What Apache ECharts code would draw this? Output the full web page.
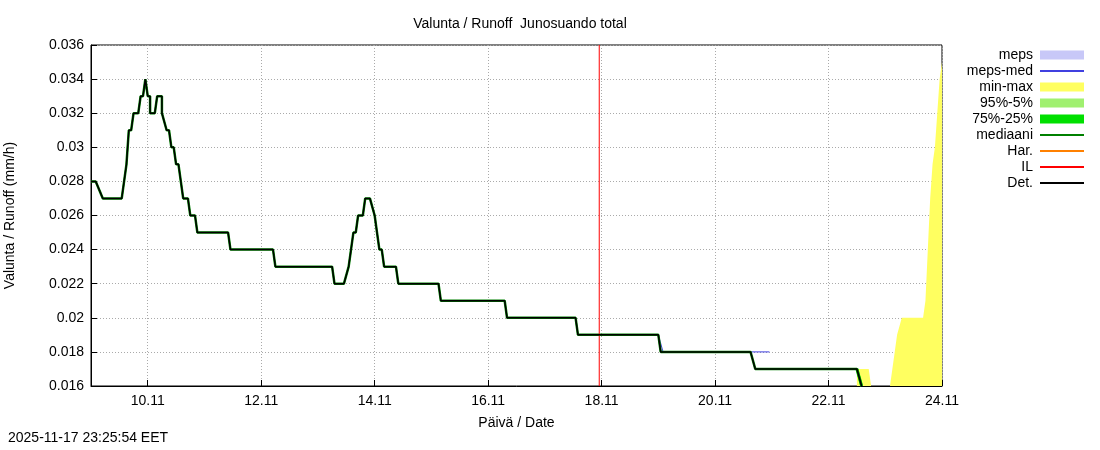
<!DOCTYPE html>
<html><head><meta charset="utf-8">
<script src="https://cdn.jsdelivr.net/npm/echarts@6/dist/echarts.min.js"></script>
<style>body{margin:0}#c{width:1100px;height:450px}</style></head>
<body><div id="c"></div>
<script>
// hours from 9.11.2025 00:00
const detH = [0,2,5,13,15,16,17,18,20,21,22,23,24,25,25,27,28,30,30,32,33,34,35,36,37,38,39,41,42,44,45,58,59,77,78,102,103,107,109,110,111,112,113,115,116,118,120,121,122,123,124,129,130,147,148,175,176,205,206,240,241,279,281,324,326];
const detV = [0.028,0.028,0.027,0.027,0.029,0.031,0.031,0.032,0.032,0.033,0.033,0.034,0.033,0.033,0.032,0.032,0.033,0.033,0.032,0.031,0.031,0.030,0.030,0.029,0.029,0.028,0.027,0.027,0.026,0.026,0.025,0.025,0.024,0.024,0.023,0.023,0.022,0.022,0.023,0.024,0.025,0.025,0.026,0.026,0.027,0.027,0.026,0.025,0.024,0.024,0.023,0.023,0.022,0.022,0.021,0.021,0.020,0.020,0.019,0.019,0.018,0.018,0.017,0.017,0.016];
const mepsH = [215,240,242,287];
const mepsV = [0.019,0.019,0.018,0.018];
const mmH = [324,326,329,330,337,338,339,340,341,342,343,344,352,353,354,355,356,357,358,359,360];
const mmV = [0.017,0.017,0.017,0.016,0.016,0.016,0.017,0.018,0.019,0.0195,0.020,0.020,0.020,0.021,0.024,0.027,0.029,0.030,0.032,0.034,0.035];
const tickH = [24,72,120,168,216,264,312,360];
const tickLabels = ['10.11','12.11','14.11','16.11','18.11','20.11','22.11','24.11'];
const nowH = 215;

const z = (a,b)=>a.map((h,i)=>[h,b[i]]);
const ch = echarts.init(document.getElementById('c'));
const F = 'Liberation Sans, Arial, sans-serif';
const rect='rect', ln='path://M0,5 L20,5 L20,6 L0,6 Z';
ch.setOption({
  animation:false,
  textStyle:{fontFamily:F,color:'#000'},
  title:{text:'Valunta / Runoff  Junosuando total',left:515,top:12,textAlign:'center',textStyle:{fontSize:14,fontWeight:'normal',fontFamily:F,color:'#000'}},
  grid:{left:91,right:158,top:45,bottom:64,show:true,borderColor:'#000',borderWidth:1,outerBoundsMode:'none',containLabel:false},
  legend:{orient:'vertical',right:11,top:43,align:'right',itemGap:2,itemWidth:44,itemHeight:9,
    textStyle:{fontSize:14,fontFamily:F,color:'#000',padding:[0,2,0,0]},
    data:[{name:'meps',icon:rect},{name:'meps-med',icon:ln},{name:'min-max',icon:rect},{name:'95%-5%',icon:rect},{name:'75%-25%',icon:rect},{name:'mediaani',icon:ln},{name:'Har.',icon:ln},{name:'IL',icon:ln},{name:'Det.',icon:ln}]},
  xAxis:{type:'value',min:0,max:360,name:'Päivä / Date',nameLocation:'middle',nameGap:30,nameTextStyle:{fontSize:14,color:'#000'},
    axisLine:{lineStyle:{color:'#000'}},
    axisTick:{customValues:tickH,inside:true,length:6,lineStyle:{color:'#000'}},
    axisLabel:{customValues:tickH,fontSize:14,color:'#000',formatter:v=>tickLabels[tickH.indexOf(v)]||''},
    splitLine:{show:true,lineStyle:{color:'#aaa',type:[1,2]}}},
  yAxis:{type:'value',min:0.016,max:0.036,interval:0.002,name:'Valunta / Runoff (mm/h)',nameLocation:'middle',nameGap:74,nameTextStyle:{fontSize:14,color:'#000'},
    axisLine:{show:true,lineStyle:{color:'#000'}},axisTick:{inside:true,length:6},
    axisLabel:{fontSize:14,color:'#000',margin:7},
    splitLine:{show:true,lineStyle:{color:'#aaa',type:[1,2]}}},
  graphic:[{type:'text',left:8,top:431,style:{text:'2025-11-17 23:25:54 EET',fontSize:14,fontFamily:F,fill:'#000'}}],
  series:[
    {name:'meps',type:'line',data:[],itemStyle:{color:'#c8c8f8'},lineStyle:{color:'#c8c8f8'}},
    {name:'meps-med',type:'line',data:z(mepsH,mepsV),symbol:'none',itemStyle:{color:'#4040e0'},lineStyle:{color:'#4040e0',width:1}},
    {name:'min-max',type:'line',data:z(mmH,mmV),symbol:'none',itemStyle:{color:'#ffff60'},lineStyle:{width:0},areaStyle:{color:'#ffff60',opacity:1,origin:'start'}},
    {name:'95%-5%',type:'line',data:[],itemStyle:{color:'#a0f070'}},
    {name:'75%-25%',type:'line',data:[[324,0.017],[326,0.016]],symbol:'none',itemStyle:{color:'#00e000'},lineStyle:{color:'#00e000',width:3}},
    {name:'mediaani',type:'line',data:z(detH,detV),symbol:'none',itemStyle:{color:'#008000'},lineStyle:{color:'#008000',width:2.5}},
    {name:'Har.',type:'line',data:[],itemStyle:{color:'#ff8000'}},
    {name:'IL',type:'line',data:[[nowH,0.016],[nowH,0.036]],symbol:'none',itemStyle:{color:'#ff0000'},lineStyle:{color:'#ff0000',width:1}},
    {name:'Det.',type:'line',data:z(detH,detV),symbol:'none',itemStyle:{color:'#000'},lineStyle:{color:'#000',width:1.5}}
  ]
});
</script></body></html>
